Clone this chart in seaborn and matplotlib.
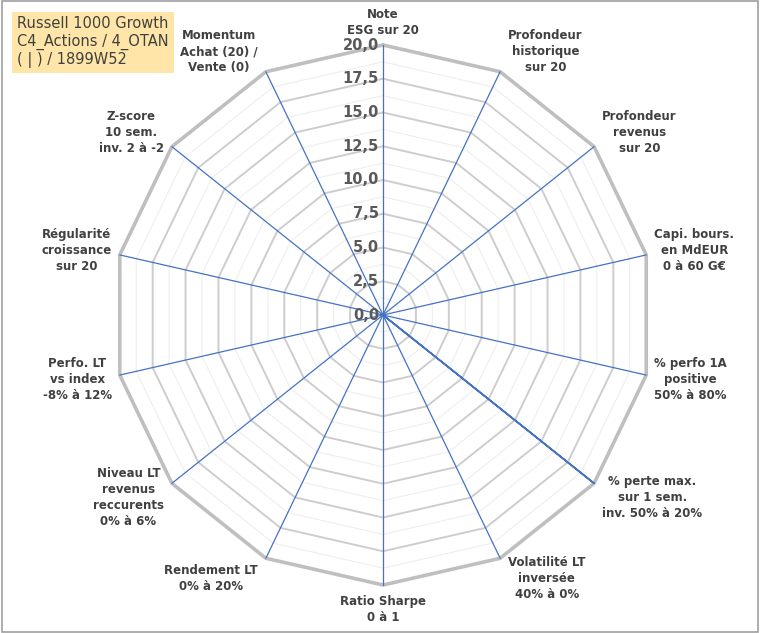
import numpy as np
import matplotlib.pyplot as plt
import seaborn as sns

sns.set_theme(style="white")
plt.rcParams['font.family'] = ['DejaVu Sans']

categories = [
    "Note\nESG sur 20", "Profondeur\nhistorique\nsur 20", "Profondeur\nrevenus\nsur 20",
    "Capi. bours.\nen MdEUR\n0 à 60 G€", "% perfo 1A\npositive\n50% à 80%",
    "% perte max.\nsur 1 sem.\ninv. 50% à 20%", "Volatilité LT\ninversée\n40% à 0%",
    "Ratio Sharpe\n0 à 1", "Rendement LT\n0% à 20%", "Niveau LT\nrevenus\nreccurents\n0% à 6%",
    "Perfo. LT\nvs index\n-8% à 12%", "Régularité\ncroissance\nsur 20",
    "Z-score\n10 sem.\ninv. 2 à -2", "Momentum\nAchat (20) /\nVente (0)",
]
values = [0, 0, 0, 0, 0, 20, 0, 0, 0, 0, 0, 0, 0, 0]
ticks = [0, 2.5, 5, 7.5, 10, 12.5, 15, 17.5, 20]
title_lines = "Russell 1000 Growth\nC4_Actions / 4_OTAN\n( | ) / 1899W52"

cx, cy, scale = 383, 315, 13.5
n = len(categories)
ang = np.arange(n) * 2 * np.pi / n


def xy(r, a):
    return cx + r * scale * np.sin(a), cy - r * scale * np.cos(a)


fig = plt.figure(figsize=(7.6, 6.33), dpi=100)
ax = fig.add_axes([0, 0, 1, 1])
ax.set_xlim(0, 760)
ax.set_ylim(633, 0)
ax.axis("off")

aa = np.append(ang, ang[0])
for r in np.arange(1.25, 20.01, 1.25):
    major = abs(r / 2.5 - round(r / 2.5)) < 1e-6
    x, y = xy(r, aa)
    if r == 20:
        ax.plot(x, y, color="#bfbfbf", lw=2.6, zorder=1)
    elif major:
        ax.plot(x, y, color="#cdcdcd", lw=1.4, zorder=1)
    else:
        ax.plot(x, y, color="#eeeeee", lw=0.8, zorder=1)

for a in ang:
    x, y = xy(np.array([0, 20]), a)
    ax.plot(x, y, color="#4472C4", lw=0.9, zorder=2)

vx, vy = xy(np.array(values + values[:1], dtype=float), aa)
ax.plot(vx, vy, color="#4472C4", lw=1.2, zorder=3)

for t in ticks:
    x, y = xy(t, 0)
    ax.text(x - 4, y, f"{t:.1f}".replace(".", ","), ha="right", va="center",
            fontsize=10.5, fontweight="bold", color="#595959", zorder=4)

for lab, a in zip(categories, ang):
    x, y = xy(20, a)
    s, c = np.sin(a), np.cos(a)
    if abs(s) < 0.2:
        ha = "center"
        va = "bottom" if c > 0 else "top"
        y += -8 if c > 0 else 10
    else:
        ha = "left" if s > 0 else "right"
        va = "center"
        x += 8 if s > 0 else -8
        y -= 22 * c
    ax.text(x, y, lab, ha=ha, va=va, multialignment="center", fontsize=8.5,
            fontweight="bold", color="#404040", linespacing=1.3)

ax.text(17, 16, title_lines, ha="left", va="top", fontsize=10.5, color="#404040",
        linespacing=1.2, bbox=dict(boxstyle="square,pad=0.35", fc="#FFE6A8", ec="none"))

fig.patches.append(plt.Rectangle((0.002, 0.002), 0.996, 0.996, transform=fig.transFigure,
                                 fill=False, ec="#a0a0a0", lw=1.2))
fig.savefig("out.png", dpi=100)
